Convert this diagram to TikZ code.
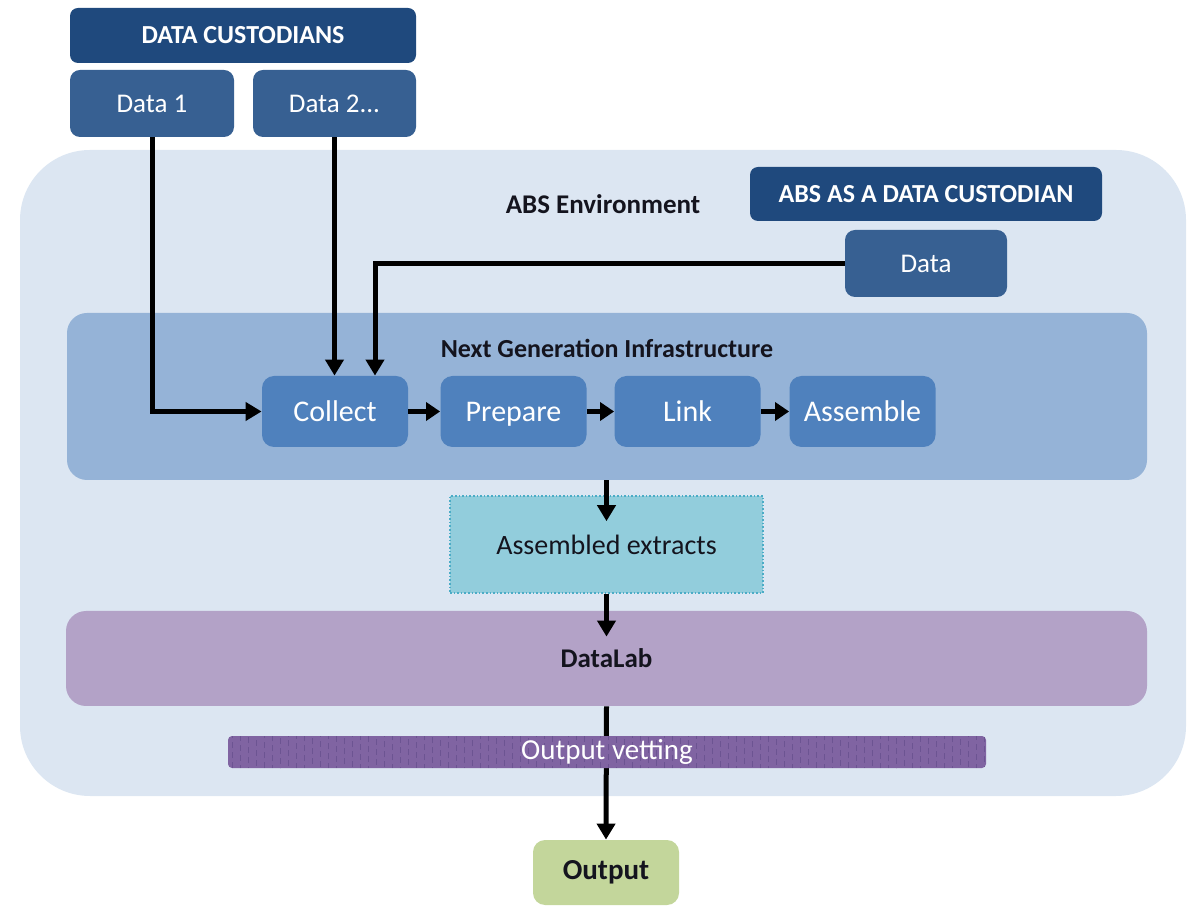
\documentclass[tikz,border=0pt]{standalone}
\usepackage{fontspec}
\setmainfont{Carlito}
\usetikzlibrary{arrows.meta,calc}
\definecolor{titleblue}{RGB}{31,73,125}
\definecolor{datablue}{RGB}{55,96,146}
\definecolor{envblue}{RGB}{220,230,242}
\definecolor{ngiblue}{RGB}{149,179,215}
\definecolor{procblue}{RGB}{79,129,189}
\definecolor{extfill}{RGB}{146,205,220}
\definecolor{extline}{RGB}{75,172,198}
\definecolor{labfill}{RGB}{179,162,199}
\definecolor{vetfill}{RGB}{128,100,162}
\definecolor{vetdash}{RGB}{108,84,146}
\definecolor{outfill}{RGB}{195,214,155}
\definecolor{darktext}{RGB}{20,20,30}
\tikzset{
  px/.style={x=0.5pt,y=-0.5pt},
  titlebox/.style={fill=titleblue,text=white,rounded corners=4pt,inner sep=0pt,font=\fontsize{13}{15}\selectfont\bfseries},
  databox/.style={fill=datablue,text=white,rounded corners=5pt,inner sep=0pt,font=\fontsize{13.5}{15}\selectfont},
  procbox/.style={fill=procblue,text=white,rounded corners=6pt,inner sep=0pt,font=\fontsize{15}{17}\selectfont,minimum width=73pt,minimum height=35.5pt,text height=9.7pt,text depth=0pt},
  arr/.style={line width=2.5pt,-{Triangle[width=9pt,length=8pt]}},
  sarr/.style={line width=2.5pt,-{Triangle[width=9pt,length=7pt]}},
}
\begin{document}
\begin{tikzpicture}[px]
\useasboundingbox (0,0) rectangle (1189,908);
% environment
\node[fill=envblue,rounded corners=35pt,minimum width=583pt,minimum height=323pt,inner sep=0pt] (env) at (603,473) {};
\node[text=darktext,font=\fontsize{13.5}{16}\selectfont\bfseries] (envlabel) at (603,204) {ABS Environment};
% data custodians
\node[titlebox,minimum width=173pt,minimum height=27.5pt] (dc) at (243,35.5) {DATA CUSTODIANS};
\node[databox,minimum width=82pt,minimum height=33.5pt] (d1) at (152,103.5) {Data 1};
\node[databox,minimum width=81.5pt,minimum height=33.5pt] (d2) at (334.5,103.5) {Data 2...};
% ABS as custodian
\node[titlebox,minimum width=176pt,minimum height=27pt] (abscust) at (926,194) {ABS AS A DATA CUSTODIAN};
\node[databox,minimum width=81pt,minimum height=33.5pt] (data) at (926,263.5) {Data};
% NGI
\node[fill=ngiblue,rounded corners=10pt,minimum width=540pt,minimum height=83.5pt,inner sep=0pt] (ngi) at (607,396.5) {};
\node[text=darktext,font=\fontsize{13}{15}\selectfont\bfseries] (ngilabel) at (607,348) {Next Generation Infrastructure};
\node[procbox] (collect) at (335,411.5) {Collect};
\node[procbox] (prepare) at (513.5,411.5) {Prepare};
\node[procbox] (link) at (687.5,411.5) {Link};
\node[procbox] (assemble) at (862.5,411.5) {Assemble};
% extracts
\node[fill=extfill,draw=extline,densely dotted,line width=0.8pt,minimum width=156.5pt,minimum height=48.5pt,inner sep=0pt,text=darktext,font=\fontsize{14}{16}\selectfont] (extracts) at (606.5,544.5) {Assembled extracts};
% datalab
\node[fill=labfill,rounded corners=10pt,minimum width=540.5pt,minimum height=47.5pt,inner sep=0pt,text=darktext,font=\fontsize{13.5}{16}\selectfont\bfseries] (datalab) at (606.5,658.5) {DataLab};
% output
\node[fill=outfill,rounded corners=6pt,minimum width=73pt,minimum height=32.5pt,inner sep=0pt,text=darktext,font=\fontsize{14.5}{17}\selectfont\bfseries] (output) at (606,872.5) {Output};
% connectors
\draw[arr] (d1.south) |- (collect.west);
\draw[arr] (d2.south) -- (d2.south |- collect.north);
\draw[arr] (data.west) -| ([xshift=20pt]collect.north);
\draw[sarr] (collect.east) -- (prepare.west);
\draw[sarr] (prepare.east) -- (link.west);
\draw[sarr] (link.east) -- (assemble.west);
\draw[arr] (ngi.south -| extracts.north) -- ([yshift=-13pt]extracts.north);
\draw[arr] (extracts.south) -- ([yshift=-13pt]extracts.south |- datalab.north);
\draw[arr] (datalab.south) -- (output.north);
% output vetting bar (over the connector)
\node[fill=vetfill,rounded corners=2pt,minimum width=379pt,minimum height=16pt,inner sep=0pt,
  path picture={
    \foreach \i in {0,...,95}{
      \draw[vetdash,line width=0.5pt,dash pattern=on 3pt off 2pt,dash phase=\i*1.3pt]
        ([xshift=\i*4pt+2pt]path picture bounding box.south west) -- ([xshift=\i*4pt+2pt]path picture bounding box.north west);
    }
  },
  text=white,font=\fontsize{14.5}{17}\selectfont] (vetting) at (607,752) {Output vetting};
\end{tikzpicture}
\end{document}
